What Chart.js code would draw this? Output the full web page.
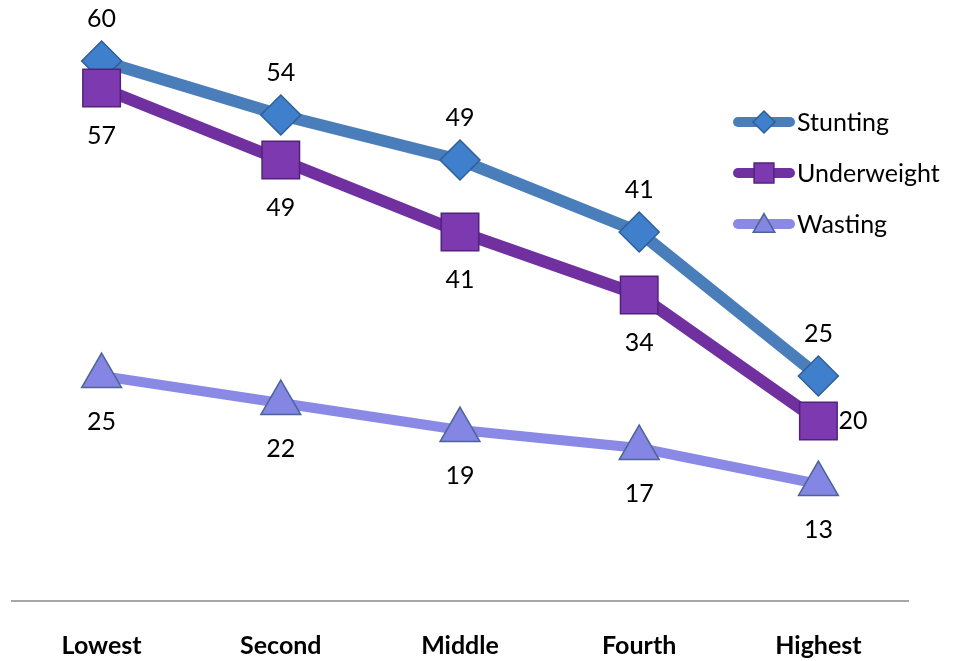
<!DOCTYPE html>
<html>
<head>
<meta charset="utf-8">
<script src="https://cdn.jsdelivr.net/npm/chart.js@4.4.0/dist/chart.umd.min.js"></script>
<style>
  html, body { margin: 0; padding: 0; background: #ffffff; }
  #wrap { width: 956px; height: 661px; }
</style>
</head>
<body>
<div id="wrap"><canvas id="c" width="956" height="661"></canvas></div>
<script>
const categories = ["Lowest", "Second", "Middle", "Fourth", "Highest"];
const stunting = [60, 54, 49, 41, 25];
const underweight = [57, 49, 41, 34, 20];
const wasting = [25, 22, 19, 17, 13];
const seriesNames = ["Stunting", "Underweight", "Wasting"];

const COLORS = {
  stunting: { line: "#4a7ebb", fill: "#3f7fcc", border: "#2e5f96" },
  underweight: { line: "#7030a0", fill: "#7c39b0", border: "#52227a" },
  wasting: { line: "#8a8ae6", fill: "#8585e4", border: "#4b6696" }
};
const FONT = "Lato, 'Open Sans', sans-serif";

const labelPlugin = {
  id: "valueLabels",
  afterDatasetsDraw(chart) {
    const ctx = chart.ctx;
    ctx.save();
    ctx.font = "25px " + FONT;
    ctx.fillStyle = "#000000";
    ctx.textBaseline = "middle";
    chart.data.datasets.forEach((ds, di) => {
      const meta = chart.getDatasetMeta(di);
      meta.data.forEach((pt, i) => {
        const v = ds.data[i];
        let x = pt.x, y = pt.y;
        ctx.textAlign = "center";
        if (di === 0) {
          y -= 42;
        } else if (di === 1 && i === ds.data.length - 1) {
          x += 20; ctx.textAlign = "left";
        } else if (di === 1) {
          y += 48;
        } else {
          y += 46;
        }
        ctx.fillText(String(v), x, y);
      });
    });
    ctx.restore();
  }
};

const legendPlugin = {
  id: "customLegend",
  afterDraw(chart) {
    const ctx = chart.ctx;
    ctx.save();
    const x0 = 738, x1 = 790, ys = [122, 173, 224];
    chart.data.datasets.forEach((ds, di) => {
      const y = ys[di];
      ctx.strokeStyle = ds.borderColor;
      ctx.lineWidth = 10;
      ctx.lineCap = "round";
      ctx.beginPath();
      ctx.moveTo(x0, y);
      ctx.lineTo(x1, y);
      ctx.stroke();
      ctx.fillStyle = ds.pointBackgroundColor;
      ctx.strokeStyle = ds.pointBorderColor;
      ctx.lineWidth = 1.5;
      Chart.helpers.drawPoint(ctx, { pointStyle: ds.pointStyle, radius: ds.legendRadius, borderWidth: 1.5 }, 764, y + (di === 2 ? 2 : 0));
      ctx.fillStyle = "#000000";
      ctx.font = "25px " + FONT;
      ctx.textAlign = "left";
      ctx.textBaseline = "middle";
      ctx.fillText(ds.label, 797, y + 1);
    });
    ctx.restore();
  }
};

new Chart(document.getElementById("c"), {
  type: "line",
  data: {
    labels: categories,
    datasets: [
      {
        label: seriesNames[0], data: stunting, order: 3,
        borderColor: COLORS.stunting.line, borderWidth: 12,
        pointStyle: "rectRot", pointRadius: 20, pointHoverRadius: 20,
        pointBackgroundColor: COLORS.stunting.fill, pointBorderColor: COLORS.stunting.border, pointBorderWidth: 1.5,
        legendRadius: 11, clip: false
      },
      {
        label: seriesNames[1], data: underweight, order: 2,
        borderColor: COLORS.underweight.line, borderWidth: 12,
        pointStyle: "rect", pointRadius: 26.5, pointHoverRadius: 26.5,
        pointBackgroundColor: COLORS.underweight.fill, pointBorderColor: COLORS.underweight.border, pointBorderWidth: 1.5,
        legendRadius: 14, clip: false
      },
      {
        label: seriesNames[2], data: wasting, order: 1,
        borderColor: COLORS.wasting.line, borderWidth: 10,
        pointStyle: "triangle", pointRadius: 23, pointHoverRadius: 23,
        pointBackgroundColor: COLORS.wasting.fill, pointBorderColor: COLORS.wasting.border, pointBorderWidth: 1.5,
        legendRadius: 12.5, clip: false
      }
    ]
  },
  options: {
    responsive: false,
    animation: false,
    events: [],
    layout: { autoPadding: false, padding: { left: 12, right: 48, top: 7, bottom: 0 } },
    plugins: { legend: { display: false }, tooltip: { enabled: false } },
    elements: { line: { tension: 0, borderCapStyle: "round", borderJoinStyle: "round" } },
    scales: {
      x: {
        offset: true,
        afterFit(scale) { scale.height = 60; },
        grid: { display: false, drawTicks: false },
        border: { display: true, color: "#a6a6a6", width: 2 },
        ticks: { color: "#000000", padding: 30, font: { family: FONT, size: 25, weight: "bold" } }
      },
      y: {
        display: false,
        min: 0, max: 66
      }
    }
  },
  plugins: [labelPlugin, legendPlugin]
});
</script>
</body>
</html>
